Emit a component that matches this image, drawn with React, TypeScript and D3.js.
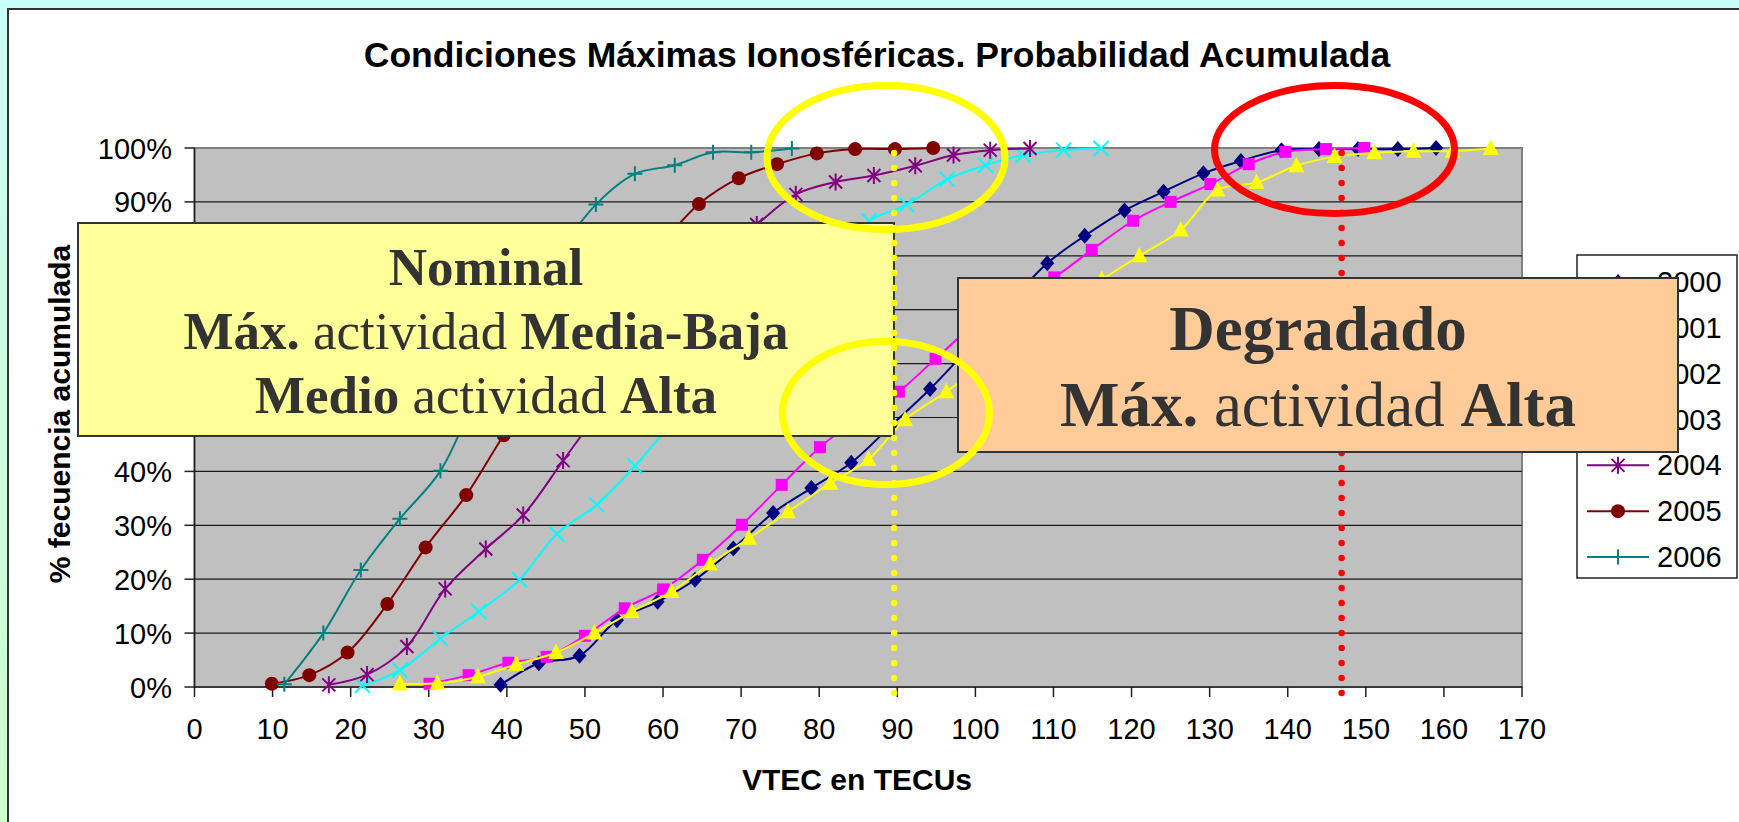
import * as d3 from "d3";
import React from "react";

const W = 1739;
const H = 822;

// series (VTEC in TECUs, cumulative %)
const years = ["2000", "2001", "2002", "2003", "2004", "2005", "2006"];
const colors = ["#000080", "#FF00FF", "#FFFF00", "#00FFFF", "#800080", "#800000", "#008080"];
const markerTypes = ["diamond", "square", "triangle", "cross", "star", "circle", "plus"];

const vtec2000 = [39.2, 44.1, 49.3, 54.1, 59.3, 64.1, 69.0, 74.1, 79.0, 84.1, 89.2, 94.2, 99.2, 104.2, 109.2, 114.0, 119.1, 124.1, 129.2, 134.0, 139.2, 144.0, 149.0, 154.1, 159.0];
const frec2000 = [0.4, 4.4, 5.8, 12.4, 15.8, 19.9, 25.7, 32.3, 36.9, 41.6, 48.5, 55.3, 63, 71, 78.6, 83.7, 88.4, 91.9, 95.3, 97.6, 99.6, 99.8, 99.8, 99.8, 100];

const vtec2001 = [30.1, 35.1, 40.2, 45.1, 50.0, 55.1, 60.0, 65.1, 70.1, 75.2, 80.1, 85.1, 90.2, 94.9, 100.1, 105.1, 110.1, 114.9, 120.2, 125.0, 130.1, 135.0, 139.7, 144.9, 149.8];
const frec2001 = [0.6, 2.2, 4.5, 5.6, 9.5, 14.6, 18.1, 23.6, 30.1, 37.5, 44.5, 50, 54.8, 60.9, 67.5, 72, 76, 81.1, 86.5, 90.0, 93.3, 97.0, 99.3, 99.8, 100];

const vtec2002 = [26.3, 31.1, 36.3, 41.2, 46.3, 51.2, 56.0, 61.1, 66.0, 71.0, 76.0, 81.4, 86.3, 91.0, 96.3, 101.2, 106.2, 111.2, 116.2, 121.0, 126.3, 131.0, 136.0, 141.1, 146.0, 151.1, 156.1, 161.1, 166.0];
const frec2002 = [0.6, 0.7, 1.9, 4.2, 6.4, 10.0, 14.0, 17.7, 22.8, 27.6, 32.5, 37.8, 42.2, 49.6, 54.8, 60, 65, 70.5, 75.6, 80.0, 84.8, 92.2, 93.6, 96.7, 98.4, 99.1, 99.4, 99.4, 99.9];

const vtec2003 = [21.5, 26.3, 31.5, 36.4, 41.6, 46.4, 51.5, 56.4, 61.4, 66.4, 71.4, 76.4, 81.4, 86.4, 91.2, 96.4, 101.3, 106.1, 111.3, 116.1];
const frec2003 = [0.3, 3.1, 9.0, 14.0, 19.9, 28.4, 33.8, 41.0, 49.5, 58, 65.5, 73, 80, 86.5, 89.5, 94.2, 96.8, 98.7, 99.6, 99.9];

const vtec2004 = [17.2, 22.1, 27.2, 32.1, 37.3, 42.1, 47.2, 52.2, 57.2, 62.2, 67.2, 72.0, 77.0, 82.1, 87.0, 92.3, 97.2, 101.9, 107.0];
const frec2004 = [0.4, 2.3, 7.5, 18.2, 25.6, 31.9, 42.0, 52, 62.5, 72, 80, 85.8, 91.4, 93.7, 94.9, 96.7, 98.7, 99.6, 99.9];

const vtec2005 = [9.9, 14.7, 19.6, 24.7, 29.6, 34.8, 39.6, 44.6, 49.6, 54.6, 59.6, 64.6, 69.7, 74.6, 79.7, 84.6, 89.7, 94.6];
const frec2005 = [0.6, 2.2, 6.4, 15.4, 25.9, 35.6, 46.7, 57, 66.5, 75, 82, 89.6, 94.4, 97.0, 99.0, 99.8, 99.8, 100];

const vtec2006 = [11.5, 16.5, 21.3, 26.3, 31.5, 36.4, 41.4, 46.4, 51.4, 56.4, 61.5, 66.4, 71.3, 76.5];
const frec2006 = [0.5, 10.0, 21.7, 31.2, 40.1, 55, 68, 80, 89.5, 95.2, 96.8, 99.2, 99.2, 99.9];

const vtecs = [vtec2000, vtec2001, vtec2002, vtec2003, vtec2004, vtec2005, vtec2006];
const frecs = [frec2000, frec2001, frec2002, frec2003, frec2004, frec2005, frec2006];

const xTicks = d3.range(0, 171, 10);
const yTicks = d3.range(0, 101, 10);

// threshold lines (TECU)
const nominalLimit = 89.6;
const degradedLimit = 146.9;

const x = d3.scaleLinear().domain([0, 170]).range([194.5, 1522]);
const y = d3.scaleLinear().domain([0, 100]).range([687, 148]);

const sans = "'Liberation Sans', Arial, sans-serif";
const serif = "'Liberation Serif', 'Times New Roman', serif";

function Marker({ type, cx, cy, color }: { type: string; cx: number; cy: number; color: string }) {
  switch (type) {
    case "diamond":
      return <path d={`M${cx},${cy - 8}L${cx + 7},${cy}L${cx},${cy + 8}L${cx - 7},${cy}Z`} fill={color} />;
    case "square":
      return <rect x={cx - 6} y={cy - 6} width={12} height={12} fill={color} />;
    case "triangle":
      return <path d={`M${cx},${cy - 9}L${cx + 8},${cy + 6.5}L${cx - 8},${cy + 6.5}Z`} fill={color} />;
    case "cross":
      return (
        <path d={`M${cx - 7.5},${cy - 7.5}L${cx + 7.5},${cy + 7.5}M${cx - 7.5},${cy + 7.5}L${cx + 7.5},${cy - 7.5}`} stroke={color} strokeWidth={2} />
      );
    case "star":
      return (
        <path
          d={`M${cx - 6.5},${cy - 6.5}L${cx + 6.5},${cy + 6.5}M${cx - 6.5},${cy + 6.5}L${cx + 6.5},${cy - 6.5}M${cx},${cy - 8.5}L${cx},${cy + 8.5}`}
          stroke={color}
          strokeWidth={2}
        />
      );
    case "circle":
      return <circle cx={cx} cy={cy} r={7} fill={color} />;
    default:
      return <path d={`M${cx - 7.5},${cy}L${cx + 7.5},${cy}M${cx},${cy - 7.5}L${cx},${cy + 7.5}`} stroke={color} strokeWidth={2} />;
  }
}

export default function App() {
  const line = d3
    .line<[number, number]>()
    .x((d) => x(d[0]))
    .y((d) => y(d[1]))
    .curve(d3.curveCatmullRom.alpha(0.5));

  const legendY = d3.scaleLinear().domain([0, 6]).range([282, 557]);

  return (
    <div style={{ position: "absolute", left: 0, top: 0, width: W, height: H, overflow: "hidden" }}>
      <svg width={W} height={H} style={{ display: "block" }}>
        <defs>
          <linearGradient id="bg" x1="0" y1="0" x2="0" y2="1">
            <stop offset="0%" stopColor="#C8FFF6" />
            <stop offset="100%" stopColor="#CCFFCC" />
          </linearGradient>
        </defs>
        <rect x={0} y={0} width={W} height={H} fill="url(#bg)" />
        <rect x={8} y={9} width={W} height={H} fill="#fff" stroke="#333" strokeWidth={2} />

        {/* title */}
        <text x={877} y={67} textAnchor="middle" fontFamily={sans} fontWeight="bold" fontSize={35.5}>
          Condiciones Máximas Ionosféricas. Probabilidad Acumulada
        </text>

        {/* plot area */}
        <rect x={x(0)} y={y(100)} width={x(170) - x(0)} height={y(0) - y(100)} fill="#C0C0C0" stroke="#808080" strokeWidth={2} />
        {yTicks.slice(1, -1).map((t) => (
          <line key={t} x1={x(0)} x2={x(170)} y1={y(t)} y2={y(t)} stroke="#1a1a1a" strokeWidth={1.2} />
        ))}
        <line x1={x(0)} x2={x(0)} y1={y(100)} y2={y(0)} stroke="#222" strokeWidth={1.5} />
        <line x1={x(0)} x2={x(170)} y1={y(0)} y2={y(0)} stroke="#222" strokeWidth={1.5} />

        {yTicks.map((t) => (
          <g key={t}>
            <line x1={x(0) - 10} x2={x(0)} y1={y(t)} y2={y(t)} stroke="#222" strokeWidth={1.5} />
            <text x={172} y={y(t) + 10.5} textAnchor="end" fontFamily={sans} fontSize={29}>
              {t}%
            </text>
          </g>
        ))}
        {xTicks.map((t) => (
          <g key={t}>
            <line x1={x(t)} x2={x(t)} y1={y(0)} y2={y(0) + 10} stroke="#222" strokeWidth={1.5} />
            <text x={x(t)} y={739} textAnchor="middle" fontFamily={sans} fontSize={29}>
              {t}
            </text>
          </g>
        ))}

        <text x={857} y={790} textAnchor="middle" fontFamily={sans} fontWeight="bold" fontSize={30}>
          VTEC en TECUs
        </text>
        <text transform="translate(70,414) rotate(-90)" textAnchor="middle" fontFamily={sans} fontWeight="bold" fontSize={30}>
          % fecuencia acumulada
        </text>

        {/* series */}
        {years.map((yr, i) => {
          const pts = vtecs[i].map((v, j) => [v, frecs[i][j]] as [number, number]);
          return (
            <g key={yr}>
              <path d={line(pts) || ""} fill="none" stroke={colors[i]} strokeWidth={2} />
              {pts.map((p, j) => (
                <Marker key={j} type={markerTypes[i]} cx={x(p[0])} cy={y(p[1])} color={colors[i]} />
              ))}
            </g>
          );
        })}

        {/* legend */}
        <rect x={1577} y={255} width={160} height={323} fill="#fff" stroke="#222" strokeWidth={1.5} />
        {years.map((yr, i) => (
          <g key={yr}>
            <line x1={1587} x2={1649} y1={legendY(i)} y2={legendY(i)} stroke={colors[i]} strokeWidth={2} />
            <Marker type={markerTypes[i]} cx={1618} cy={legendY(i)} color={colors[i]} />
            <text x={1657} y={legendY(i) + 10} fontFamily={sans} fontSize={29}>
              {yr}
            </text>
          </g>
        ))}

        {/* annotation boxes */}
        <rect x={78} y={223} width={816} height={213} fill="#FFFF99" stroke="#333" strokeWidth={2} />
        <text textAnchor="middle" fontFamily={serif} fontSize={53} fill="#333">
          <tspan x={486} y={285} fontWeight="bold">Nominal</tspan>
          <tspan x={486} y={349}>
            <tspan fontWeight="bold">Máx.</tspan> actividad <tspan fontWeight="bold">Media-Baja</tspan>
          </tspan>
          <tspan x={486} y={413}>
            <tspan fontWeight="bold">Medio</tspan> actividad <tspan fontWeight="bold">Alta</tspan>
          </tspan>
        </text>

        <line x1={x(nominalLimit)} x2={x(nominalLimit)} y1={153} y2={694} stroke="#FFFF00" strokeWidth={6.5} strokeDasharray="0 15" strokeLinecap="round" />
        <line x1={x(degradedLimit)} x2={x(degradedLimit)} y1={153} y2={694} stroke="#FF0000" strokeWidth={6.5} strokeDasharray="0 15" strokeLinecap="round" />

        <rect x={958} y={278} width={720} height={174} fill="#FFCC99" stroke="#333" strokeWidth={2} />
        <text textAnchor="middle" fontFamily={serif} fontSize={63} fill="#333">
          <tspan x={1318} y={350} fontWeight="bold">Degradado</tspan>
          <tspan x={1318} y={426}>
            <tspan fontWeight="bold">Máx.</tspan> actividad <tspan fontWeight="bold">Alta</tspan>
          </tspan>
        </text>

        <ellipse cx={886} cy={157.5} rx={119} ry={72} fill="none" stroke="#FFFF00" strokeWidth={7} />
        <ellipse cx={886} cy={413} rx={103.5} ry={71.5} fill="none" stroke="#FFFF00" strokeWidth={7} />
        <ellipse cx={1334.5} cy={149.5} rx={120} ry={64} fill="none" stroke="#FF0000" strokeWidth={7} />
      </svg>
    </div>
  );
}
